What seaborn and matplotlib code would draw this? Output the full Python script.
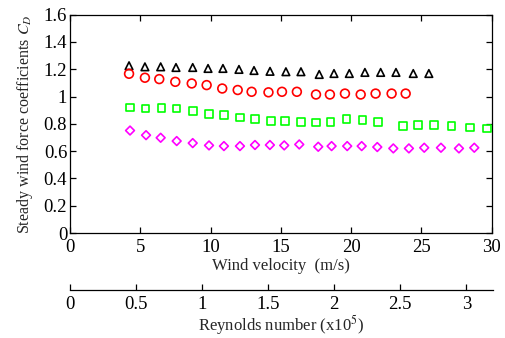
import numpy as np
import pandas as pd
import matplotlib
matplotlib.use("Agg")
import matplotlib.pyplot as plt
import seaborn as sns
from matplotlib.ticker import FuncFormatter

# ---- data ----
tri_v = [4.2, 5.33, 6.45, 7.54, 8.73, 9.82, 10.88, 12.02, 13.09, 14.23, 15.36, 16.43,
         17.73, 18.78, 19.87, 20.98, 22.1, 23.19, 24.42, 25.53]
tri_cd = [1.226, 1.218, 1.218, 1.213, 1.213, 1.206, 1.206, 1.199, 1.191, 1.185, 1.182, 1.182,
          1.162, 1.169, 1.169, 1.177, 1.177, 1.177, 1.169, 1.169]

cir_v = [4.2, 5.33, 6.35, 7.49, 8.66, 9.72, 10.83, 11.93, 12.92, 14.12, 15.08, 16.14,
         17.5, 18.49, 19.56, 20.68, 21.74, 22.88, 23.88]
cir_cd = [1.167, 1.138, 1.128, 1.108, 1.096, 1.084, 1.059, 1.048, 1.035, 1.031, 1.035, 1.035,
          1.015, 1.015, 1.022, 1.015, 1.022, 1.022, 1.022]

sq_v = [4.27, 5.38, 6.52, 7.59, 8.73, 9.89, 10.95, 12.09, 13.16, 14.3, 15.29, 16.43,
        17.5, 18.54, 19.68, 20.82, 21.93, 23.71, 24.77, 25.91, 27.15, 28.45, 29.68]
sq_cd = [0.920, 0.913, 0.918, 0.913, 0.894, 0.874, 0.864, 0.847, 0.835, 0.823, 0.823, 0.815,
         0.810, 0.815, 0.835, 0.828, 0.815, 0.786, 0.791, 0.791, 0.786, 0.773, 0.766]

dia_v = [4.27, 5.41, 6.45, 7.59, 8.73, 9.89, 10.95, 12.09, 13.16, 14.22, 15.24, 16.31,
         17.66, 18.61, 19.72, 20.75, 21.86, 23.0, 24.11, 25.2, 26.39, 27.67, 28.76]
dia_cd = [0.751, 0.717, 0.698, 0.674, 0.659, 0.642, 0.637, 0.637, 0.645, 0.645, 0.642, 0.649,
          0.632, 0.637, 0.637, 0.637, 0.630, 0.620, 0.620, 0.625, 0.625, 0.620, 0.625]

x_ticks = [0, 5, 10, 15, 20, 25, 30]
y_ticks = [0, 0.2, 0.4, 0.6, 0.8, 1.0, 1.2, 1.4, 1.6]
re_ticks = [0, 0.5, 1, 1.5, 2, 2.5, 3]

sns.set_theme(style="ticks")
plt.rcParams['font.family'] = ['Liberation Serif', 'DejaVu Serif']
plt.rcParams['mathtext.fontset'] = 'stix'

fig = plt.figure(figsize=(5.05, 3.38), dpi=100)
ax = fig.add_axes([70/505, 1-233/338, (491.7-70)/505, (233-14.7)/338])

series = [
    (tri_v, tri_cd, '^', 'black'),
    (cir_v, cir_cd, 'o', 'red'),
    (sq_v, sq_cd, 's', '#00ff00'),
    (dia_v, dia_cd, 'D', '#ff00ff'),
]
sizes = {'^': 30, 'o': 40, 's': 30, 'D': 20}
for v, cd, m, c in series:
    df = pd.DataFrame({'v': v, 'cd': cd})
    sns.scatterplot(data=df, x='v', y='cd', marker=m, s=sizes[m], color=c,
                    facecolor='none', edgecolor=c, linewidth=1.2, ax=ax, legend=False, zorder=3)

ax.set_xlim(0, 30)
ax.set_ylim(0, 1.6)
ax.set_xticks(x_ticks)
ax.set_yticks(y_ticks)
fmt = FuncFormatter(lambda val, p: f"{val:g}")
ax.yaxis.set_major_formatter(fmt)
ax.xaxis.set_major_formatter(fmt)
ax.tick_params(direction='in', length=4, width=0.9, labelsize=13.5, colors='black',
               top=True, right=True, bottom=True, left=True)
ax.tick_params(axis='x', pad=4)
ax.tick_params(axis='y', pad=2)
for sp in ax.spines.values():
    sp.set_visible(True)
    sp.set_color('black')
    sp.set_linewidth(0.9)
ax.set_xlabel('Wind velocity  (m/s)', fontsize=12, labelpad=2)
ax.set_ylabel('Steady wind force coefficients $C_D$', fontsize=11.5, labelpad=6)

# Secondary Reynolds axis
ax2 = fig.add_axes([70/505, 1-290/338, (492.7-70)/505, 0.0001])
ax2.set_facecolor('none')
for k in ['top', 'left', 'right']:
    ax2.spines[k].set_visible(False)
ax2.spines['bottom'].set_color('black')
ax2.spines['bottom'].set_linewidth(0.9)
ax2.set_xlim(0, 3.2)
ax2.set_xticks(re_ticks)
ax2.xaxis.set_major_formatter(fmt)
ax2.set_yticks([])
ax2.tick_params(axis='x', direction='in', length=4, width=0.9, labelsize=13.5,
                colors='black', pad=4, bottom=True, top=False)
ax2.set_xlabel('Reynolds number (x10$^5$)', fontsize=12, labelpad=0)

fig.savefig('out.png', dpi=100)
